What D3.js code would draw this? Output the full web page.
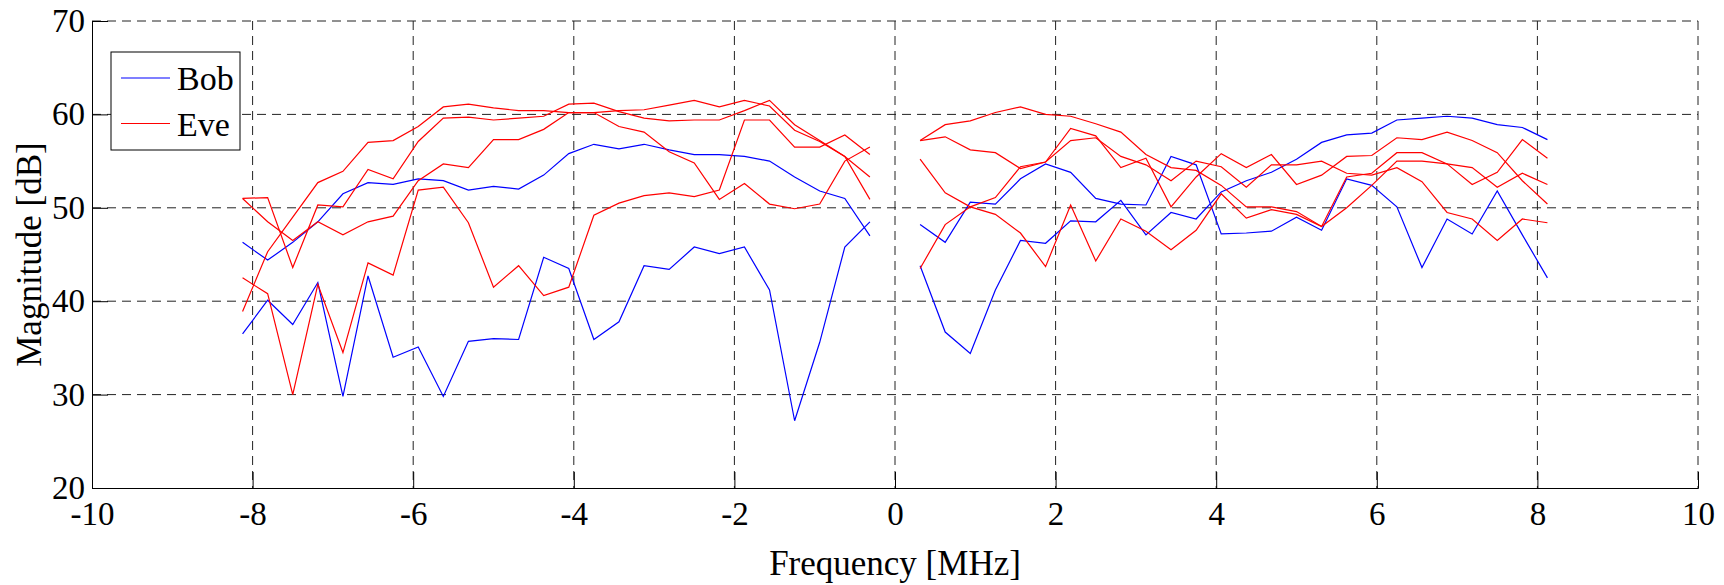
<!DOCTYPE html>
<html>
<head>
<meta charset="utf-8">
<script src="https://cdn.jsdelivr.net/npm/d3@7"></script>
<style>
  body { margin: 0; background: #fff; }
  svg { display: block; font-family: "Liberation Serif", "Times New Roman", serif; }
</style>
</head>
<body>
<div id="chart"></div>
<script>
// subcarrier grid (312.5 kHz spacing, DC removed)
const freqNeg = d3.range(-26, 0).map(k => k * 0.3125)
const freqPos = d3.range(1, 27).map(k => k * 0.3125)

// Bob, magnitude in dB
const bob1Neg = [46.3, 44.4, 46.3, 48.5, 51.5, 52.7, 52.5, 53.1, 52.9, 51.9, 52.3, 52.0, 53.5, 55.8, 56.8, 56.3, 56.8, 56.2, 55.7, 55.7, 55.5, 55.0, 53.3, 51.8, 51.0, 47.0]
const bob1Pos = [48.2, 46.3, 50.6, 50.4, 53.1, 54.7, 53.8, 51.0, 50.4, 50.3, 55.5, 54.6, 47.2, 47.3, 47.5, 49.0, 47.6, 53.1, 52.4, 50.1, 43.6, 48.8, 47.2, 51.8, 47.1, 42.5]
const bob2Neg = [36.5, 40.1, 37.5, 42.0, 29.8, 42.7, 34.0, 35.1, 29.8, 35.7, 36.0, 35.9, 44.7, 43.5, 35.9, 37.8, 43.8, 43.4, 45.8, 45.1, 45.8, 41.2, 27.2, 35.6, 45.8, 48.5]
const bob2Pos = [43.8, 36.7, 34.4, 41.2, 46.5, 46.2, 48.6, 48.5, 50.8, 47.1, 49.5, 48.8, 51.7, 52.9, 53.8, 55.2, 57.0, 57.8, 58.0, 59.4, 59.6, 59.8, 59.6, 58.9, 58.6, 57.3]

// Eve, magnitude in dB
const eve1Neg = [51.0, 51.1, 43.6, 50.3, 50.1, 54.1, 53.1, 57.1, 59.6, 59.7, 59.4, 59.6, 59.8, 61.1, 61.2, 60.3, 59.6, 59.3, 59.4, 59.4, 60.4, 61.5, 58.9, 57.2, 55.5, 50.9]
const eve1Pos = [57.2, 58.9, 59.3, 60.2, 60.8, 60.0, 59.8, 59.0, 58.1, 55.7, 54.3, 54.0, 52.4, 50.1, 50.1, 49.6, 48.0, 53.3, 53.7, 55.9, 55.9, 54.7, 52.5, 53.8, 57.3, 55.3]
const eve2Neg = [51.0, 48.5, 46.5, 48.5, 47.1, 48.5, 49.1, 52.9, 54.7, 54.3, 57.3, 57.3, 58.4, 60.2, 60.2, 58.7, 58.1, 56.0, 54.8, 50.9, 52.6, 50.4, 49.9, 50.4, 55.0, 56.5]
const eve2Pos = [57.2, 57.6, 56.2, 55.9, 54.2, 54.9, 57.2, 57.5, 55.5, 54.6, 52.9, 55.0, 54.4, 52.2, 54.6, 54.6, 55.0, 53.7, 53.5, 54.3, 52.8, 49.5, 48.8, 46.5, 48.8, 48.4]
const eve3Neg = [38.9, 45.3, 49.0, 52.7, 53.9, 57.0, 57.2, 58.7, 60.8, 61.1, 60.7, 60.4, 60.4, 60.2, 60.2, 60.4, 60.5, 61.0, 61.5, 60.8, 61.5, 60.9, 58.3, 57.1, 55.5, 53.3]
const eve3Pos = [43.5, 48.2, 50.1, 51.1, 54.4, 54.9, 58.5, 57.7, 54.3, 55.3, 50.1, 53.3, 55.8, 54.3, 55.7, 52.5, 53.5, 55.5, 55.6, 57.5, 57.3, 58.1, 57.2, 55.9, 52.9, 50.4]
const eve4Neg = [42.5, 40.8, 30.0, 41.8, 34.5, 44.1, 42.8, 51.9, 52.2, 48.4, 41.5, 43.8, 40.6, 41.5, 49.2, 50.5, 51.3, 51.6, 51.2, 51.9, 59.4, 59.4, 56.5, 56.5, 57.8, 55.7]
const eve4Pos = [55.2, 51.6, 50.1, 49.3, 47.3, 43.7, 50.3, 44.3, 48.8, 47.5, 45.5, 47.6, 51.5, 48.9, 49.8, 49.3, 48.0, 50.0, 52.4, 55.0, 55.0, 54.7, 54.3, 52.2, 53.7, 52.5]

const xTicks = [-10, -8, -6, -4, -2, 0, 2, 4, 6, 8, 10]
const yTicks = [20, 30, 40, 50, 60, 70]
const legendNames = ["Bob", "Eve"]
const colors = {Bob: "#0000ff", Eve: "#ff0000"}

const series = [
    {name: "Bob", neg: bob1Neg, pos: bob1Pos},
    {name: "Bob", neg: bob2Neg, pos: bob2Pos},
    {name: "Eve", neg: eve1Neg, pos: eve1Pos},
    {name: "Eve", neg: eve2Neg, pos: eve2Pos},
    {name: "Eve", neg: eve3Neg, pos: eve3Pos},
    {name: "Eve", neg: eve4Neg, pos: eve4Pos}
]

const W = 1724, H = 585
const margin = {top: 21, right: 26, bottom: 97, left: 92}
const width = W - margin.left - margin.right
const height = H - margin.top - margin.bottom

const svg = d3.select("#chart").append("svg")
    .attr("width", W)
    .attr("height", H)

const g = svg.append("g")
    .attr("transform", `translate(${margin.left},${margin.top})`)

const x = d3.scaleLinear().domain([-10, 10]).range([0, width])
const y = d3.scaleLinear().domain([20, 70]).range([height, 0])

// dashed grid
g.append("g")
    .attr("class", "grid")
    .selectAll("line.vx")
    .data(xTicks.slice(1))
    .enter().append("line")
    .attr("x1", d => x(d)).attr("x2", d => x(d))
    .attr("y1", 0).attr("y2", height)

g.select(".grid")
    .selectAll("line.hy")
    .data(yTicks.slice(1))
    .enter().append("line")
    .attr("x1", 0).attr("x2", width)
    .attr("y1", d => y(d)).attr("y2", d => y(d))

g.selectAll(".grid line")
    .attr("stroke", "#222")
    .attr("stroke-width", 1)
    .attr("stroke-dasharray", "9,6")

// data lines, each half drawn on its own (no DC bin)
const line = d3.line()
    .x(d => x(d[0]))
    .y(d => y(d[1]))

series.forEach(s => {
    [[freqNeg, s.neg], [freqPos, s.pos]].forEach(([f, v]) => {
        g.append("path")
            .datum(f.map((fi, i) => [fi, v[i]]))
            .attr("fill", "none")
            .attr("stroke", colors[s.name])
            .attr("stroke-width", 1.2)
            .attr("d", line)
    })
})

// axes, ticks point inward like matlab
const xAxis = d3.axisBottom(x).tickValues(xTicks).tickSize(-16).tickPadding(14).tickFormat(d3.format("d"))
const yAxis = d3.axisLeft(y).tickValues(yTicks).tickSize(-16).tickPadding(7).tickFormat(d3.format("d"))

g.append("g")
    .attr("transform", `translate(0,${height})`)
    .call(xAxis)
    .call(a => a.selectAll("text").text(d => d < 0 ? "-" + Math.abs(d) : d))

g.append("g")
    .call(yAxis)

g.selectAll(".tick text")
    .attr("fill", "#000")
    .attr("font-size", 33)
    .attr("font-family", "Liberation Serif, Times New Roman, serif")
g.selectAll(".tick line").attr("stroke", "#000")
g.selectAll(".domain").attr("stroke", "#000")

// axis labels
svg.append("text")
    .attr("x", margin.left + width / 2)
    .attr("y", 575)
    .attr("text-anchor", "middle")
    .attr("font-size", 35)
    .text("Frequency [MHz]")

svg.append("text")
    .attr("transform", `translate(41,${margin.top + height / 2}) rotate(-90)`)
    .attr("text-anchor", "middle")
    .attr("font-size", 35)
    .text("Magnitude [dB]")

// legend
const legend = svg.append("g")
    .attr("transform", "translate(111,52)")

legend.append("rect")
    .attr("width", 129)
    .attr("height", 98)
    .attr("fill", "#fff")
    .attr("stroke", "#000")
    .attr("stroke-width", 1)

const item = legend.selectAll("g.item")
    .data(legendNames)
    .enter().append("g")
    .attr("transform", (d, i) => `translate(0,${26 + i * 45.5})`)

item.append("line")
    .attr("x1", 10).attr("x2", 59)
    .attr("stroke", d => colors[d])
    .attr("stroke-width", 1.2)

item.append("text")
    .attr("x", 66)
    .attr("y", 12)
    .attr("font-size", 34)
    .text(d => d)
</script>
</body>
</html>
